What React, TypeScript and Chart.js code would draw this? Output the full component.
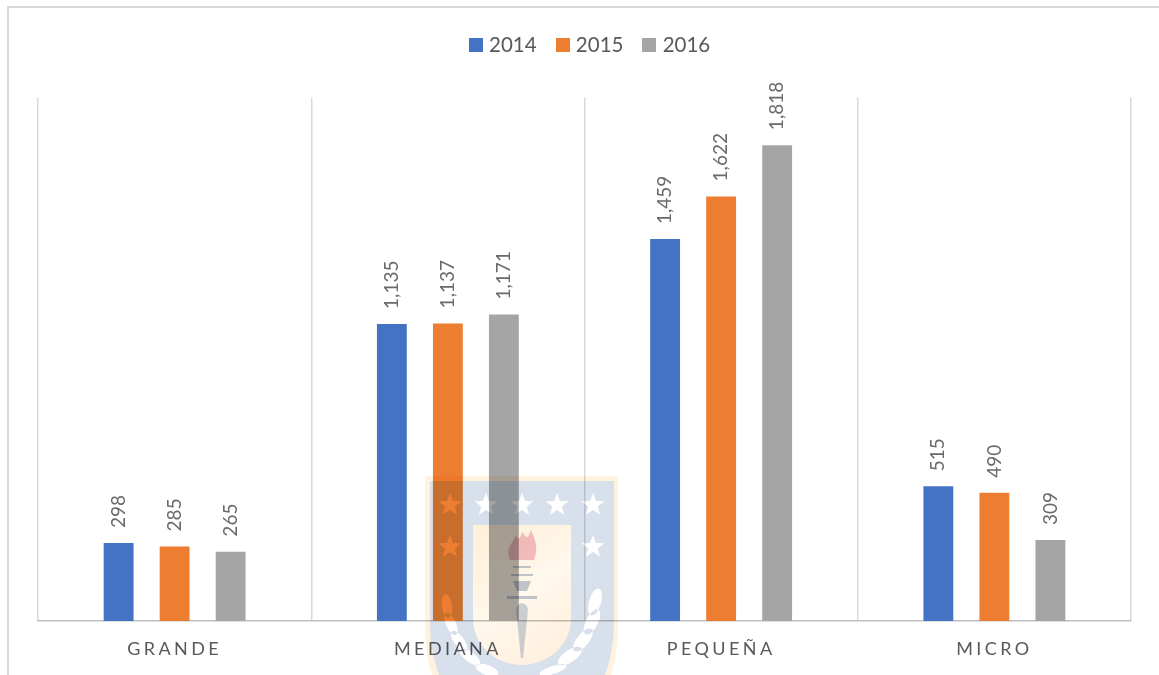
import React, { useEffect, useRef } from "react";
import { Chart, registerables } from "chart.js";

Chart.register(...registerables);

const categories = ["GRANDE", "MEDIANA", "PEQUEÑA", "MICRO"];
const values2014 = [298, 1135, 1459, 515];
const values2015 = [285, 1137, 1622, 490];
const values2016 = [265, 1171, 1818, 309];
const colors = ["#4472C4", "#ED7D31", "#A5A5A5"];
const TEXT = "#595959";
const VALUE_TEXT = "#6A6A6A";

function square(color: string) {
  const c = document.createElement("canvas");
  c.width = 14;
  c.height = 14;
  const g = c.getContext("2d")!;
  g.fillStyle = color;
  g.fillRect(0, 0, 14, 14);
  return c;
}

function star(ctx: CanvasRenderingContext2D, cx: number, cy: number, r: number) {
  for (let i = 0; i < 10; i++) {
    const rr = i % 2 === 0 ? r : r * 0.42;
    const a = -Math.PI / 2 + (i * Math.PI) / 5;
    const x = cx + rr * Math.cos(a);
    const y = cy + rr * Math.sin(a);
    if (i === 0) ctx.moveTo(x, y);
    else ctx.lineTo(x, y);
  }
  ctx.closePath();
}

function leaf(ctx: CanvasRenderingContext2D, cx: number, cy: number, rx: number, ry: number, rot: number) {
  ctx.moveTo(cx + rx * Math.cos(rot), cy + rx * Math.sin(rot));
  ctx.ellipse(cx, cy, rx, ry, rot, 0, Math.PI * 2);
  ctx.closePath();
}

function shieldPath(ctx: CanvasRenderingContext2D, l: number, t: number, r: number, b: number) {
  const mid = (l + r) / 2;
  ctx.moveTo(l, t);
  ctx.lineTo(r, t);
  ctx.lineTo(r, b - 150);
  ctx.bezierCurveTo(r, b - 70, r - 55, b - 25, mid, b);
  ctx.bezierCurveTo(l + 55, b - 25, l, b - 70, l, b - 150);
  ctx.closePath();
}

function panelPath(ctx: CanvasRenderingContext2D) {
  ctx.moveTo(473, 525);
  ctx.lineTo(571, 525);
  ctx.lineTo(571, 618);
  ctx.bezierCurveTo(571, 648, 545, 665, 522, 665);
  ctx.bezierCurveTo(499, 665, 473, 648, 473, 618);
  ctx.closePath();
}

const watermark = {
  id: "watermark",
  afterDraw(chart: any) {
    const ctx: CanvasRenderingContext2D = chart.ctx;
    ctx.save();
    ctx.globalCompositeOperation = "multiply";

    ctx.beginPath();
    shieldPath(ctx, 425, 476, 618, 778);
    shieldPath(ctx, 430, 481, 614, 772);
    ctx.fillStyle = "#FFF3E0";
    ctx.fill("evenodd");

    ctx.beginPath();
    shieldPath(ctx, 430, 481, 614, 772);
    panelPath(ctx);
    for (const x of [450, 486, 522, 557, 593]) star(ctx, x, 505, 12);
    for (const x of [450, 593]) star(ctx, x, 547, 12);
    const leaves: [number, number, number, number, number][] = [
      [447, 606, 12, 5, -1.7], [451, 624, 12, 5, -2.0], [459, 641, 12, 5, -2.2], [470, 657, 12, 5, -2.5], [487, 670, 12, 5, -2.8],
      [595, 602, 14, 6, -1.3], [592, 622, 14, 6, -1.1], [583, 640, 14, 6, -0.9], [570, 656, 14, 6, -0.6], [553, 670, 14, 4, -0.3],
    ];
    for (const [x, y, a, b, rot] of leaves) leaf(ctx, x, y, a, b, rot);
    ctx.fillStyle = "#D8E0EB";
    ctx.fill("evenodd");

    ctx.beginPath();
    panelPath(ctx);
    const g = ctx.createLinearGradient(473, 525, 571, 665);
    g.addColorStop(0, "#FFEFD8");
    g.addColorStop(0.5, "#FFF8EC");
    g.addColorStop(1, "#FFEEDB");
    ctx.fillStyle = g;
    ctx.fill();

    ctx.beginPath();
    ctx.moveTo(510, 560);
    ctx.bezierCurveTo(505, 548, 512, 545, 516, 535);
    ctx.bezierCurveTo(518, 540, 520, 540, 522, 532);
    ctx.bezierCurveTo(527, 538, 527, 540, 531, 530);
    ctx.bezierCurveTo(538, 545, 537, 552, 534, 560);
    ctx.closePath();
    ctx.fillStyle = "#F2C2D0";
    ctx.fill();

    ctx.fillStyle = "#C0CBDB";
    ctx.fillRect(513, 566, 18, 2);
    ctx.fillRect(511, 574, 22, 2);
    ctx.beginPath();
    ctx.moveTo(513, 581);
    ctx.lineTo(531, 581);
    ctx.lineTo(527, 591);
    ctx.lineTo(517, 591);
    ctx.closePath();
    ctx.fill();
    ctx.fillRect(507, 596, 30, 3);
    ctx.beginPath();
    ctx.moveTo(516, 610);
    ctx.bezierCurveTo(517, 601, 527, 601, 528, 610);
    ctx.lineTo(523, 658);
    ctx.lineTo(521, 658);
    ctx.closePath();
    ctx.fillStyle = "#CBD5E3";
    ctx.fill();
    ctx.restore();
  },
};

const valueLabels = {
  id: "valueLabels",
  afterDatasetsDraw(chart: any) {
    const ctx: CanvasRenderingContext2D = chart.ctx;
    chart.data.datasets.forEach((ds: any, i: number) => {
      chart.getDatasetMeta(i).data.forEach((bar: any, j: number) => {
        ctx.save();
        ctx.translate(bar.x, bar.y - 15);
        ctx.rotate(-Math.PI / 2);
        ctx.font = "19px Lato";
        ctx.fillStyle = VALUE_TEXT;
        ctx.textAlign = "left";
        ctx.textBaseline = "middle";
        ctx.fillText(ds.data[j].toLocaleString("en-US"), 0, 0);
        ctx.restore();
      });
    });
  },
};

const layoutTweaks = {
  id: "layoutTweaks",
  beforeLayout(chart: any) {
    const l = chart.legend;
    if (l && !l.__tweaked) {
      l.__tweaked = true;
      const fit = l.fit;
      l.fit = function () {
        fit.call(this);
        this.height += 32;
      };
      const draw = l.draw;
      l.draw = function () {
        chart.ctx.save();
        chart.ctx.translate(7, 0);
        draw.call(this);
        chart.ctx.restore();
      };
    }
  },
  afterUpdate(chart: any) {
    const s = chart.scales.x;
    if (s.__spaced) return;
    s.__spaced = true;
    const orig = s.drawLabels;
    s.drawLabels = function (area: any) {
      chart.ctx.save();
      (chart.ctx as any).letterSpacing = "3.4px";
      orig.call(this, area);
      chart.ctx.restore();
    };
  },
};

export default function App() {
  const ref = useRef<HTMLCanvasElement>(null);
  useEffect(() => {
    const chart = new Chart(ref.current!, {
      type: "bar",
      data: {
        labels: categories,
        datasets: [
          { label: "2014", data: values2014, backgroundColor: colors[0] },
          { label: "2015", data: values2015, backgroundColor: colors[1] },
          { label: "2016", data: values2016, backgroundColor: colors[2] },
        ],
      },
      options: {
        animation: false,
        responsive: false,
        layout: { padding: { left: 38, right: 28, top: 12, bottom: 0 } },
        datasets: { bar: { categoryPercentage: 0.615, barPercentage: 0.533 } },
        plugins: {
          title: { display: false },
          tooltip: { enabled: false },
          legend: {
            display: true,
            position: "top",
            align: "center",
            onClick: () => {},
            labels: {
              usePointStyle: true,
              pointStyleWidth: 6,
              boxWidth: 6,
              boxHeight: 14,
              padding: 23,
              color: TEXT,
              font: { family: "Lato", size: 20.5 },
              generateLabels(c: any) {
                const items = Chart.defaults.plugins.legend.labels.generateLabels(c);
                items.forEach((it: any, i: number) => {
                  it.pointStyle = square(colors[i]);
                });
                return items;
              },
            },
          },
        },
        scales: {
          x: {
            afterFit(s: any) {
              s.height = 54;
            },
            grid: { display: true, offset: true, color: "#D9D9D9", lineWidth: 1.5, drawTicks: false },
            border: { display: true, color: "#BFBFBF", width: 1.5 },
            ticks: { color: TEXT, font: { family: "Lato", size: 18 }, padding: 17, maxRotation: 0, autoSkip: false },
          },
          y: { display: false, min: 0, max: 2000 },
        },
      },
      plugins: [layoutTweaks, valueLabels, watermark],
    } as any);
    return () => chart.destroy();
  }, []);
  return (
    <div style={{ position: "fixed", left: 0, top: 0, width: 1159, height: 675, background: "#fff", overflow: "hidden" }}>
      <canvas ref={ref} width={1159} height={675} style={{ position: "absolute", left: 0, top: 0, display: "block" }} />
      <div style={{ position: "absolute", left: 7, top: 6, width: 1152, height: 669, boxSizing: "border-box", borderTop: "2px solid #D9D9D9", borderLeft: "2px solid #D9D9D9", pointerEvents: "none" }} />
    </div>
  );
}
